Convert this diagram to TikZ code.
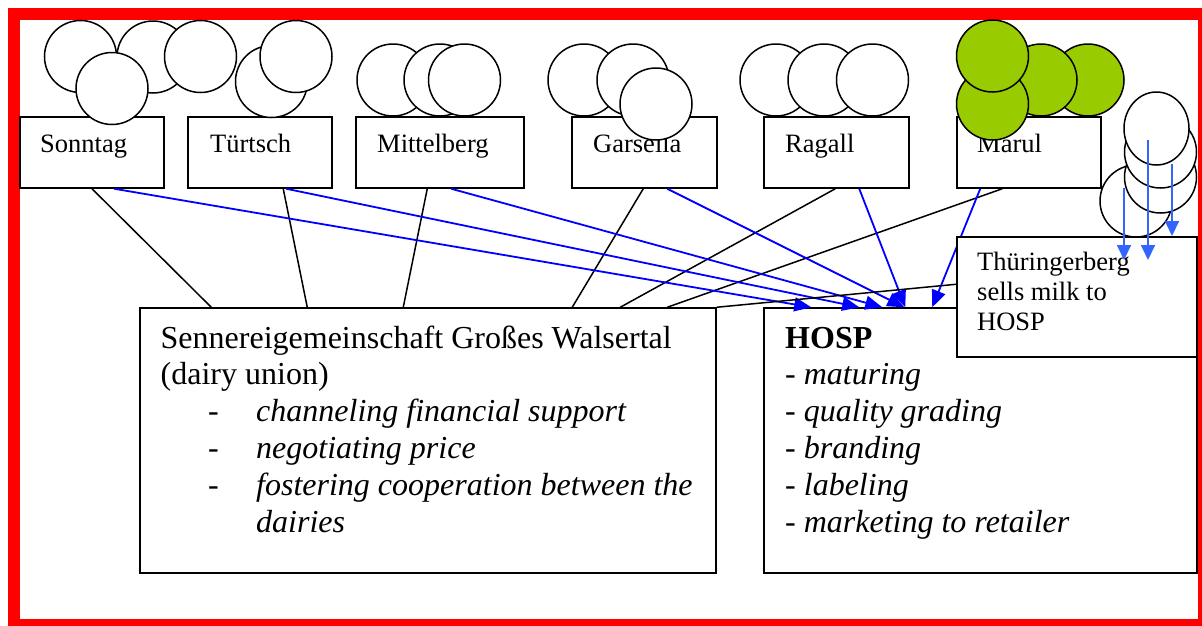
\documentclass[tikz,border=0pt]{standalone}
\usepackage{fontspec}
\setmainfont{Liberation Serif}
\usetikzlibrary{arrows.meta,shapes.geometric}
\definecolor{framered}{RGB}{255,0,0}
\definecolor{arrowblue}{RGB}{0,0,255}
\definecolor{milkblue}{RGB}{51,102,255}
\definecolor{marulgreen}{RGB}{153,204,0}
\tikzset{
  box/.style={rectangle, draw, line width=1.5pt, fill=white, inner sep=0pt},
  cir/.style={circle, draw, line width=1.5pt, fill=white, minimum size=72pt, inner sep=0pt},
  gcir/.style={cir, fill=marulgreen},
  txt/.style={anchor=base west, inner sep=0pt, font=\fontsize{26.5}{30}\selectfont},
  big/.style={anchor=base west, inner sep=0pt, font=\fontsize{32}{36.8}\selectfont},
  link/.style={line width=1.5pt, black},
  flow/.style={draw=arrowblue, line width=1.8pt, -{Triangle[length=17pt,width=14pt]}},
  milk/.style={draw=milkblue, line width=1.8pt, -{Triangle[length=15pt,width=14pt]}}
}
\begin{document}
\begin{tikzpicture}[x=1pt,y=-1pt]
\useasboundingbox (0,0) rectangle (1202,625);

% red frame
\draw[framered, line width=12pt] (14,14) rectangle (1204,625);

% main boxes
\node[box, minimum width=576pt, minimum height=265pt] (union) at (428,440.5) {};
\node[box, minimum width=433pt, minimum height=265pt] (hosp) at (980.5,440.5) {};

% dairy boxes
\node[box, minimum width=144pt, minimum height=71pt] (sonntag) at (92,152.5) {};
\node[box, minimum width=144pt, minimum height=71pt] (tuertsch) at (260,152.5) {};
\node[box, minimum width=168pt, minimum height=71pt] (mittelberg) at (440,152.5) {};
\node[box, minimum width=145pt, minimum height=71pt] (garsella) at (644.5,152.5) {};
\node[box, minimum width=145pt, minimum height=71pt] (ragall) at (836.5,152.5) {};
\node[box, minimum width=144pt, minimum height=71pt] (marul) at (1029,152.5) {};

\node[txt] (lsonntag) at (40,152) {Sonntag};
\node[txt] (ltuertsch) at (210,152) {Türtsch};
\node[txt] (lmittelberg) at (377,152) {Mittelberg};
\node[txt] (lgarsella) at (593,152) {Garsella};
\node[txt] (lragall) at (785,152) {Ragall};
\node[txt] (lmarul) at (977,152) {Marul};

% union text
\node[big] (u1) at (160.5,348) {Sennereigemeinschaft Großes Walsertal};
\node[big] (u2) at (160.5,384.8) {(dairy union)};
\node[big] (ud1) at (208,421.6) {-};
\node[big] (ud2) at (208,458.4) {-};
\node[big] (ud3) at (208,495.2) {-};
\node[big] (u3) at (256,421.6) {\itshape channeling financial support};
\node[big] (u4) at (256,458.4) {\itshape negotiating price};
\node[big] (u5) at (256,495.2) {\itshape fostering cooperation between the};
\node[big] (u6) at (256,532) {\itshape dairies};

% HOSP text
\node[big] (h1) at (785,348) {\bfseries HOSP};
\node[big] (h2) at (785,384.8) {- \itshape maturing};
\node[big] (h3) at (785,421.6) {- \itshape quality grading};
\node[big] (h4) at (785,458.4) {- \itshape branding};
\node[big] (h5) at (785,495.2) {- \itshape labeling};
\node[big] (h6) at (785,532) {- \itshape marketing to retailer};

% black connectors to the union
\draw[link] (sonntag.south) -- ([xshift=72pt]union.north west);
\draw[link] ([xshift=96pt]tuertsch.south west) -- ([xshift=168pt]union.north west);
\draw[link] ([xshift=72pt]mittelberg.south west) -- ([xshift=264pt]union.north west);
\draw[link] ([xshift=72pt]garsella.south west) -- ([xshift=433pt]union.north west);
\draw[link] ([xshift=72pt]ragall.south west) -- ([xshift=481pt]union.north west);
\draw[link] ([xshift=46pt]marul.south west) -- ([xshift=528pt]union.north west);

% blue arrows to HOSP
\draw[flow] ([xshift=95pt]sonntag.south west) -- ([xshift=48pt]hosp.north west);
\draw[flow] ([xshift=99pt]tuertsch.south west) -- ([xshift=96pt]hosp.north west);
\draw[flow] ([xshift=96pt]mittelberg.south west) -- ([xshift=119pt]hosp.north west);
\draw[flow] ([xshift=96pt]garsella.south west) -- ([xshift=141pt]hosp.north west);
\draw[flow] ([xshift=96pt]ragall.south west) -- ([xshift=142pt]hosp.north west);
\draw[flow] ([xshift=24pt]marul.south west) -- ([xshift=169pt]hosp.north west);

% Thueringerberg box
\node[box, minimum width=240pt, minimum height=120pt] (thuer) at (1077,297) {};
\node[txt] (t1) at (977,270) {Thüringerberg};
\node[txt] (t2) at (977,300) {sells milk to};
\node[txt] (t3) at (977,330) {HOSP};
\draw[link] ([yshift=-48pt]thuer.north west) -- (union.north east);

% circles
\node[cir] (s1) at (80.5,56.5) {};
\node[cir] (s2) at (153,57) {};
\node[cir] (s3) at (200.5,56.5) {};
\node[cir] (s4) at (112,88.5) {};

\node[cir] (tc1) at (271.5,81.5) {};
\node[cir] (tc2) at (296,56.5) {};

\node[cir] (m1) at (393,80) {};
\node[cir] (m2) at (440,80) {};
\node[cir] (m3) at (464.5,80) {};

\node[cir] (g1) at (584,80) {};
\node[cir] (g2) at (633,80) {};
\node[cir] (g3) at (656,104) {};

\node[cir] (r1) at (776,80) {};
\node[cir] (r2) at (824,80) {};
\node[cir] (r3) at (872.5,80) {};

\node[gcir] (mc4) at (1088,80) {};
\node[gcir] (mc3) at (1041,80) {};
\node[gcir] (mc2) at (992.5,104) {};
\node[gcir] (mc1) at (992.5,56) {};

\node[cir] (th4) at (1136,201) {};
\node[cir] (th3) at (1160.5,177) {};
\node[cir] (th2) at (1160.5,152) {};
\node[ellipse, draw, line width=1.5pt, fill=white, minimum width=65pt, minimum height=73pt, inner sep=0pt] (th1) at (1156.5,128.5) {};

% milk arrows
\coordinate (ma1) at (1124,188);
\coordinate (mb1) at (1124,260);
\coordinate (ma2) at (1148,140);
\coordinate (mb2) at (1148,260);
\coordinate (ma3) at (1172,164);
\coordinate (mb3) at (1172,236);
\draw[milk] (ma1) -- (mb1);
\draw[milk] (ma2) -- (mb2);
\draw[milk] (ma3) -- (mb3);
\end{tikzpicture}
\end{document}
